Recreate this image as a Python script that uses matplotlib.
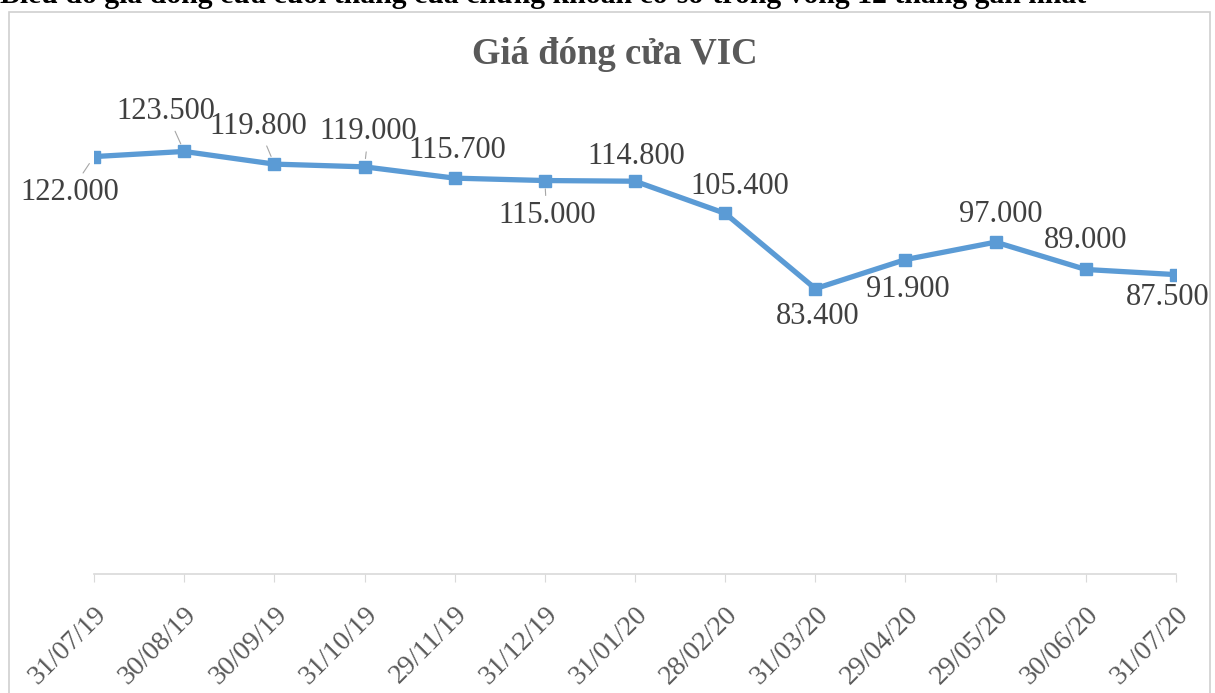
import numpy as np
import matplotlib.pyplot as plt
from matplotlib.patches import Rectangle

# data
dates = ["31/07/19", "30/08/19", "30/09/19", "31/10/19", "29/11/19", "31/12/19",
         "31/01/20", "28/02/20", "31/03/20", "29/04/20", "29/05/20", "30/06/20", "31/07/20"]
prices = [122.0, 123.5, 119.8, 119.0, 115.7, 115.0, 114.8, 105.4, 83.4, 91.9, 97.0, 89.0, 87.5]

# label placement (pixel offsets from the point), and whether a leader line is drawn
label_offsets = [(-24, -36), (-18, 40), (-16, 38), (4, 35), (3, 28), (2, -35), (1, 25),
                 (15, 27), (2, -28), (2, -30), (5, 28), (0, 29), (-8, -23)]
leaders = [True, True, True, True, False, True, False, False, False, False, False, False, False]

serif = ["Liberation Serif", "DejaVu Serif"]
W, H = 1215, 693

fig = plt.figure(figsize=(W / 100, H / 100), dpi=100)

# outer chart frame
fig.patches.append(Rectangle((9 / W, -0.05), (1210 - 9) / W, (H - 12) / H + 0.05,
                             transform=fig.transFigure, fill=False,
                             edgecolor="#D0D0D0", linewidth=1.2))

# header text (cut at top in the source)
fig.text(0, 1 - 3 / H, "Biểu đồ giá đóng cửa cuối tháng của chứng khoán cơ sở trong vòng 12 tháng gần nhất",
         family=serif, fontweight="bold", fontsize=21.4, color="black", va="baseline", ha="left")

ax = fig.add_axes([94 / W, (H - 574) / H, (1176 - 94) / W, (574 - 95) / H])
x = np.arange(len(dates))
ax.plot(x, prices, color="#5B9BD5", linewidth=3.8, marker="s", markersize=9,
        markerfacecolor="#5B9BD5", markeredgecolor="#5B9BD5", solid_joinstyle="round")

for i, v in enumerate(prices):
    txt = f"{int(v)}.{int(round((v - int(v)) * 1000)):03d}"
    dx, dy = label_offsets[i]
    props = dict(arrowstyle="-", color="#A6A6A6", lw=0.8, shrinkA=2, shrinkB=6) if leaders[i] else None
    ax.annotate(txt, (x[i], v), xytext=(dx, dy), textcoords="offset pixels",
                ha="center", va="center", family=serif, fontsize=22, color="#404040",
                arrowprops=props)

ax.set_xlim(0, len(dates) - 1)
ax.set_ylim(0, 140)
ax.set_yticks([])
ax.set_xticks(x)
ax.set_xticklabels(dates, rotation=45, ha="right", rotation_mode="anchor",
                   family=serif, fontsize=20, color="#595959")
ax.tick_params(axis="x", length=6, color="#D9D9D9", pad=14)
for s in ["top", "right", "left"]:
    ax.spines[s].set_visible(False)
ax.spines["bottom"].set_color("#D9D9D9")
ax.spines["bottom"].set_linewidth(1.2)
ax.patch.set_alpha(0)

fig.text(615 / W, 1 - 55 / H, "Giá đóng cửa VIC", family=serif, fontweight="bold",
         fontsize=26.5, color="#595959", ha="center", va="center")

fig.savefig("out.png", dpi=100)
